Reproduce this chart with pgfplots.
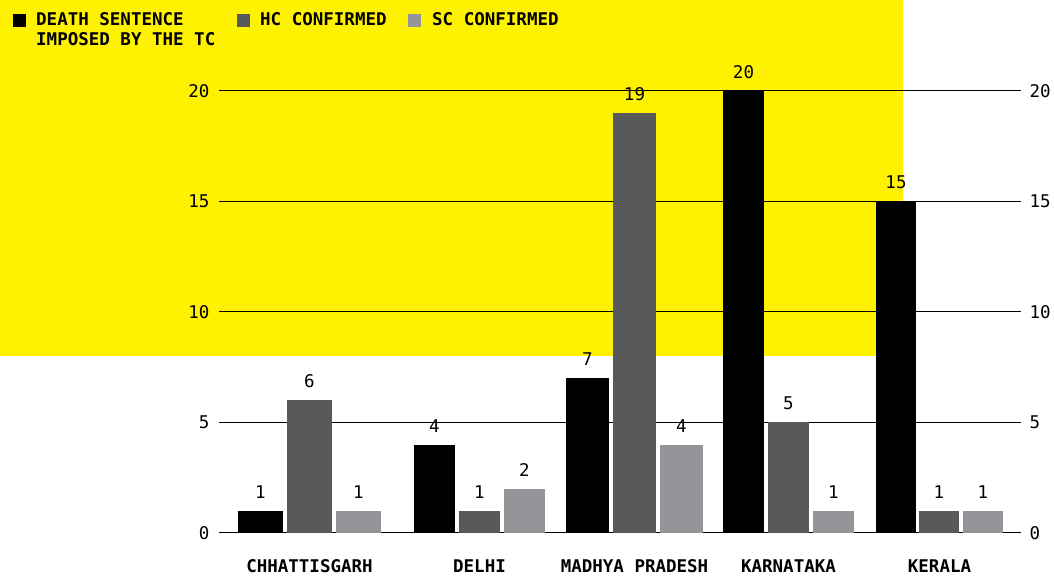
\documentclass[border=0pt]{standalone}
\usepackage{pgfplots}
\pgfplotsset{compat=1.18}
\usepackage{fontspec}
\setmainfont{DejaVu Sans Mono}
\definecolor{bgyellow}{HTML}{FFF200}
\definecolor{hcgray}{HTML}{58595B}
\definecolor{scgray}{HTML}{939598}
\newcommand{\lab}{\fontsize{17.5}{20}\selectfont}
\pgfplotsset{
  mybar/.style n args={2}{ybar, bar shift=0pt, bar width=#2pt, draw=none, fill=#1},
}
\begin{document}
\begin{tikzpicture}[x=1pt,y=1pt]
\path[use as bounding box] (0,0) rectangle (1054,577);
\fill[bgyellow] (0,221) rectangle (903,577);
% legend
\fill[black] (13,550) rectangle (26,563);
\node[anchor=base west, inner sep=0] at (36,551.3) {\lab\bfseries DEATH SENTENCE};
\node[anchor=base west, inner sep=0] at (36,531.3) {\lab\bfseries IMPOSED BY THE TC};
\fill[hcgray] (237,550) rectangle (250,563);
\node[anchor=base west, inner sep=0] at (260,551.3) {\lab\bfseries HC CONFIRMED};
\fill[scgray] (408,550) rectangle (421,563);
\node[anchor=base west, inner sep=0] at (432,551.3) {\lab\bfseries SC CONFIRMED};

\begin{axis}[
  at={(219pt,44pt)}, anchor=south west, scale only axis,
  width=802pt, height=442pt,
  xmin=219, xmax=1021, ymin=0, ymax=20, enlargelimits=false,
  clip=false,
  axis line style={draw=none},
  major tick length=0pt,
  ytick={0,5,10,15,20},
  ymajorgrids, grid style={black, line width=1pt},
  /pgf/number format/assume math mode=true,
  yticklabel style={font=\lab, xshift=-6pt},
  xtick={309.5,479.5,634.5,788.5,939.5},
  xticklabels={CHHATTISGARH,DELHI,MADHYA PRADESH,KARNATAKA,KERALA},
  xticklabel style={font=\lab\bfseries, anchor=base, yshift=-40pt},
  nodes near coords,
  nodes near coords style={font=\lab, anchor=base, yshift=12.5pt, text=black},
]
% Chhattisgarh
\addplot[mybar={black}{45}] coordinates {(260.5,1)};
\addplot[mybar={hcgray}{45}] coordinates {(309.5,6)};
\addplot[mybar={scgray}{45}] coordinates {(358.5,1)};
% Delhi
\addplot[mybar={black}{41}] coordinates {(434.5,4)};
\addplot[mybar={hcgray}{41}] coordinates {(479.5,1)};
\addplot[mybar={scgray}{41}] coordinates {(524.5,2)};
% Madhya Pradesh
\addplot[mybar={black}{43}] coordinates {(587.5,7)};
\addplot[mybar={hcgray}{43}] coordinates {(634.5,19)};
\addplot[mybar={scgray}{43}] coordinates {(681.5,4)};
% Karnataka
\addplot[mybar={black}{41}] coordinates {(743.5,20)};
\addplot[mybar={hcgray}{41}] coordinates {(788.5,5)};
\addplot[mybar={scgray}{41}] coordinates {(833.5,1)};
% Kerala
\addplot[mybar={black}{40}] coordinates {(896,15)};
\addplot[mybar={hcgray}{40}] coordinates {(939,1)};
\addplot[mybar={scgray}{40}] coordinates {(983,1)};
\end{axis}

\begin{axis}[
  at={(219pt,44pt)}, anchor=south west, scale only axis,
  width=802pt, height=442pt,
  xmin=219, xmax=1021, ymin=0, ymax=20, enlargelimits=false,
  axis line style={draw=none},
  major tick length=0pt,
  ytick={0,5,10,15,20}, xtick=\empty,
  yticklabel pos=right,
  /pgf/number format/assume math mode=true,
  yticklabel style={font=\lab, xshift=5pt},
]
\addplot[draw=none, forget plot] coordinates {(219,0)};
\end{axis}
\end{tikzpicture}
\end{document}
